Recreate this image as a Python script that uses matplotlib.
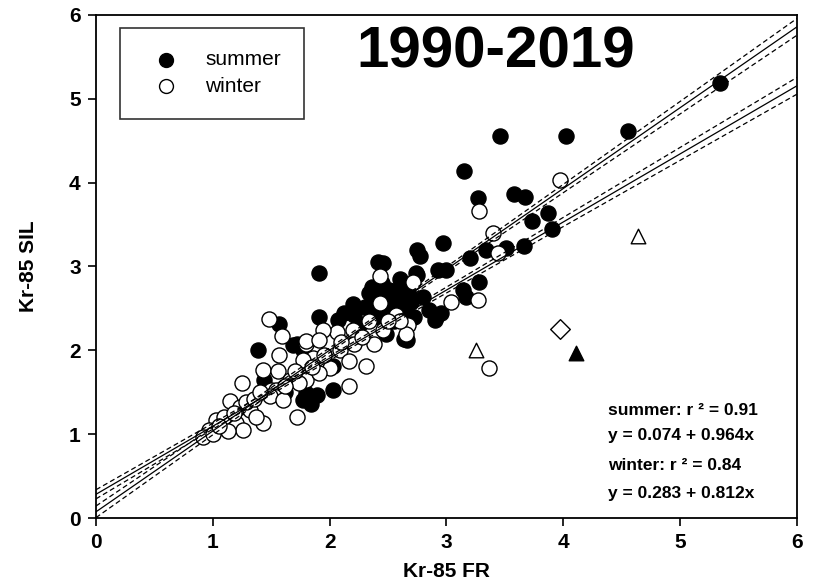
import numpy as np
import matplotlib
matplotlib.use('Agg')
import matplotlib.pyplot as plt

# summer (filled circles)
summer_x = [5.34, 4.55, 4.02, 3.46, 3.15, 3.58, 3.67, 3.27, 3.87, 3.73, 3.90, 2.97,
            2.75, 2.77, 3.34, 3.51, 3.66, 3.20, 2.93, 3.00, 2.74, 3.28, 3.14, 3.17,
            2.85, 2.91, 2.66, 2.64, 1.91, 2.41, 2.46, 2.51, 2.57, 2.43, 2.34, 2.51,
            2.68, 2.80, 2.68, 2.75, 2.43, 2.54, 2.26, 2.48, 1.57, 1.91, 2.07, 2.21,
            1.72, 1.69, 1.39, 1.44, 2.03, 1.80, 1.89, 1.77, 1.77, 2.03, 2.60, 2.38,
            2.30, 2.62, 2.57, 1.62, 1.84, 2.90, 2.95, 2.36, 2.45, 2.70,
            2.35, 2.55, 2.65, 2.50, 2.40, 2.60, 2.20, 2.12, 2.72]
summer_y = [5.19, 4.62, 4.56, 4.56, 4.14, 3.87, 3.83, 3.82, 3.64, 3.54, 3.45, 3.28,
            3.20, 3.12, 3.20, 3.22, 3.25, 3.10, 2.96, 2.96, 2.92, 2.82, 2.72, 2.64,
            2.48, 2.40, 2.12, 2.14, 2.92, 3.05, 3.04, 2.72, 2.68, 2.64, 2.68, 2.52,
            2.64, 2.64, 2.66, 2.90, 2.40, 2.48, 2.32, 2.20, 2.32, 2.40, 2.36, 2.42,
            2.08, 2.06, 2.00, 1.65, 1.53, 1.49, 1.47, 1.41, 2.00, 1.81, 2.75, 2.55,
            2.52, 2.45, 2.60, 1.50, 1.36, 2.36, 2.44, 2.76, 2.80, 2.58,
            2.45, 2.35, 2.50, 2.62, 2.75, 2.85, 2.55, 2.45, 2.40]

# winter (open circles)
winter_x = [3.97, 3.28, 3.40, 3.44, 2.43, 2.71, 3.04, 3.27, 2.57, 2.67, 2.46, 3.36,
            1.48, 1.59, 1.57, 1.80, 1.43, 1.50, 1.25, 1.72, 1.43, 2.17, 2.43, 2.34,
            2.20, 2.06, 1.94, 1.80, 1.91, 2.09, 2.21, 2.38, 2.28, 2.31, 2.17, 2.00,
            1.86, 1.77, 1.80, 1.91, 1.56, 1.66, 1.74, 1.54, 1.49, 1.60, 1.15, 1.23,
            1.03, 1.09, 0.97, 1.32, 1.37, 1.20, 1.26, 0.92, 1.00, 1.10, 1.18, 1.28,
            1.35, 1.40, 1.62, 2.65, 2.60, 1.13, 1.05, 2.50, 1.70, 1.85, 2.10, 1.95]
winter_y = [4.03, 3.66, 3.40, 3.16, 2.89, 2.82, 2.58, 2.60, 2.42, 2.30, 2.24, 1.79,
            2.37, 2.17, 1.95, 2.08, 1.77, 1.53, 1.61, 1.21, 1.13, 1.57, 2.56, 2.35,
            2.24, 2.22, 2.24, 2.11, 2.12, 2.00, 2.08, 2.08, 2.16, 1.81, 1.87, 1.79,
            1.91, 1.88, 1.65, 1.73, 1.75, 1.65, 1.61, 1.53, 1.45, 1.41, 1.39, 1.33,
            1.17, 1.09, 1.05, 1.29, 1.21, 1.13, 1.05, 0.97, 1.00, 1.20, 1.25, 1.38,
            1.42, 1.50, 1.58, 2.20, 2.35, 1.04, 1.10, 2.35, 1.75, 1.80, 2.10, 1.95]

# excluded points
open_tri_x = [4.64, 3.25]
open_tri_y = [3.36, 2.00]
fill_tri_x = [4.11]
fill_tri_y = [1.97]
diamond_x = [3.97]
diamond_y = [2.26]

# fits (from the annotation) and confidence band half-widths
summer_fit = (0.074, 0.964)
winter_fit = (0.283, 0.812)
summer_ci = (2.4, 0.025, 0.10)   # x centre, half-width at centre, half-width at x=6
winter_ci = (2.0, 0.025, 0.10)

plt.rcParams['font.family'] = ['Liberation Sans', 'DejaVu Sans']

fig = plt.figure(figsize=(8.31, 5.87), dpi=100)
ax = fig.add_axes([0.1155, 0.1175, 0.8435, 0.857])

ax.scatter(summer_x, summer_y, s=118, c='black', edgecolors='black', linewidths=1, zorder=2)
ax.scatter(winter_x, winter_y, s=118, c='white', edgecolors='black', linewidths=1, zorder=3)
ax.scatter(open_tri_x, open_tri_y, s=110, marker='^', c='white', edgecolors='black', linewidths=1, zorder=3)
ax.scatter(fill_tri_x, fill_tri_y, s=110, marker='^', c='black', edgecolors='black', linewidths=1, zorder=3)
ax.scatter(diamond_x, diamond_y, s=100, marker='D', c='white', edgecolors='black', linewidths=1, zorder=3)

xx = np.linspace(0, 6, 200)
for (a, b), (xm, h0, h6) in [(summer_fit, summer_ci), (winter_fit, winter_ci)]:
    yy = a + b * xx
    k = np.sqrt((h6**2 - h0**2) / (6 - xm)**2)
    half = np.sqrt(h0**2 + (k * (xx - xm))**2)
    ax.plot(xx, yy, color='black', lw=0.9, zorder=4)
    ax.plot(xx, yy + half, color='black', lw=0.9, ls=(0, (4, 2.5)), zorder=4)
    ax.plot(xx, yy - half, color='black', lw=0.9, ls=(0, (4, 2.5)), zorder=4)

ax.set_xlim(0, 6)
ax.set_ylim(0, 6)
ax.set_xticks(range(7))
ax.set_yticks(range(7))
ax.tick_params(direction='out', length=6, width=1.2, labelsize=15, pad=5, top=False, right=False)
for lab in ax.get_xticklabels() + ax.get_yticklabels():
    lab.set_fontweight('bold')
for sp in ax.spines.values():
    sp.set_linewidth(1.3)

ax.set_xlabel('Kr-85 FR', fontsize=15, fontweight='bold', labelpad=7)
ax.set_ylabel('Kr-85 SIL', fontsize=15, fontweight='bold', labelpad=22)

ax.text(0.57, 0.925, '1990-2019', transform=ax.transAxes, ha='center', va='center',
        fontsize=42, fontweight='bold')

leg_s = ax.scatter([], [], s=100, c='black', edgecolors='black')
leg_w = ax.scatter([], [], s=100, c='white', edgecolors='black')
leg = ax.legend([leg_s, leg_w], ['summer', 'winter'], loc='upper left',
                bbox_to_anchor=(0.034, 0.975), frameon=True, fancybox=False,
                edgecolor='black', handletextpad=0.8, borderpad=1.1, handlelength=2.2,
                labelspacing=0.35, borderaxespad=0, prop={'size': 15})
leg.get_frame().set_linewidth(1.2)

ax.text(0.73, 0.205, 'summer: r ² = 0.91', transform=ax.transAxes, fontsize=12.5, fontweight='bold')
ax.text(0.73, 0.155, 'y = 0.074 + 0.964x', transform=ax.transAxes, fontsize=12.5, fontweight='bold')
ax.text(0.73, 0.095, 'winter: r ² = 0.84', transform=ax.transAxes, fontsize=12.5, fontweight='bold')
ax.text(0.73, 0.040, 'y = 0.283 + 0.812x', transform=ax.transAxes, fontsize=12.5, fontweight='bold')

fig.savefig('out.png', dpi=100)
